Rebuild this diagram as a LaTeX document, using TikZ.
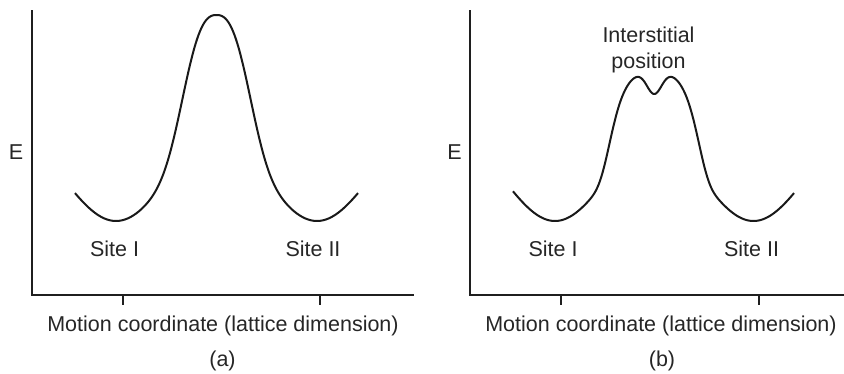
\documentclass[tikz,border=0pt]{standalone}
\usepackage{fontspec}
\setmainfont{Liberation Sans}
\begin{document}
\begin{tikzpicture}[x=1pt,y=-1pt,
  axis/.style={line width=1.5pt,black!88},
  tick/.style={line width=1.3pt,black!88},
  curve/.style={line width=2pt,black!90,line join=round},
  lbl/.style={font=\fontsize{21.5}{26}\selectfont,inner sep=0pt,anchor=base,text=black!85},
  declare function={
    gpow(\u,\r)=exp(max(\r*ln(\u+0.001),-9));
    ya(\t)=221-39*(1-cos(1.79104*(\t-116)))-128*exp(max(-gpow(abs(\t-216.5)/38.9,2.8),-9));
    yb(\t)=221-39*(1-cos(1.81360*(\t-555)))-74*exp(max(-gpow(abs(\t-654.25)/46.4,5.5),-9))
           +25*exp(max(-((\t-654.25)/10.8)^2,-9));
  }]
\useasboundingbox (0,0) rectangle (844,373);
% ---------- panel (a)
\coordinate (aY) at (32,10);
\coordinate (aO) at (32,295);
\coordinate (aX) at (414,295);
\coordinate (aT1) at (123,295);
\coordinate (aT1e) at (123,305);
\coordinate (aT2) at (320,295);
\coordinate (aT2e) at (320,305);
\draw[axis] (aY) -- (aO) -- (aX);
\draw[tick] (aT1) -- (aT1e);
\draw[tick] (aT2) -- (aT2e);
\draw[curve] plot[domain=75:358,samples=280] (\x,{ya(\x)});
\node[lbl] (aE) at (16,159.5) {E};
\node[lbl] (aS1) at (114.5,256) {Site I};
\node[lbl] (aS2) at (313,256) {Site II};
\node[lbl] (aM) at (223,331.5) {Motion coordinate (lattice dimension)};
\node[lbl] (aL) at (222.5,366) {(a)};
% ---------- panel (b)
\coordinate (bY) at (470,10);
\coordinate (bO) at (470,295);
\coordinate (bX) at (844,295);
\coordinate (bT1) at (561,295);
\coordinate (bT1e) at (561,305);
\coordinate (bT2) at (759,295);
\coordinate (bT2e) at (759,305);
\draw[axis] (bY) -- (bO) -- (bX);
\draw[tick] (bT1) -- (bT1e);
\draw[tick] (bT2) -- (bT2e);
\draw[curve] plot[domain=513:794,samples=300] (\x,{yb(\x)});
\node[lbl] (bE) at (454.5,159.5) {E};
\node[lbl] (bI1) at (648.5,42.3) {Interstitial};
\node[lbl] (bI2) at (648.5,68.3) {position};
\node[lbl] (bS1) at (553,256) {Site I};
\node[lbl] (bS2) at (751.5,256) {Site II};
\node[lbl] (bM) at (661,331.5) {Motion coordinate (lattice dimension)};
\node[lbl] (bL) at (662,366) {(b)};
\end{tikzpicture}
\end{document}
